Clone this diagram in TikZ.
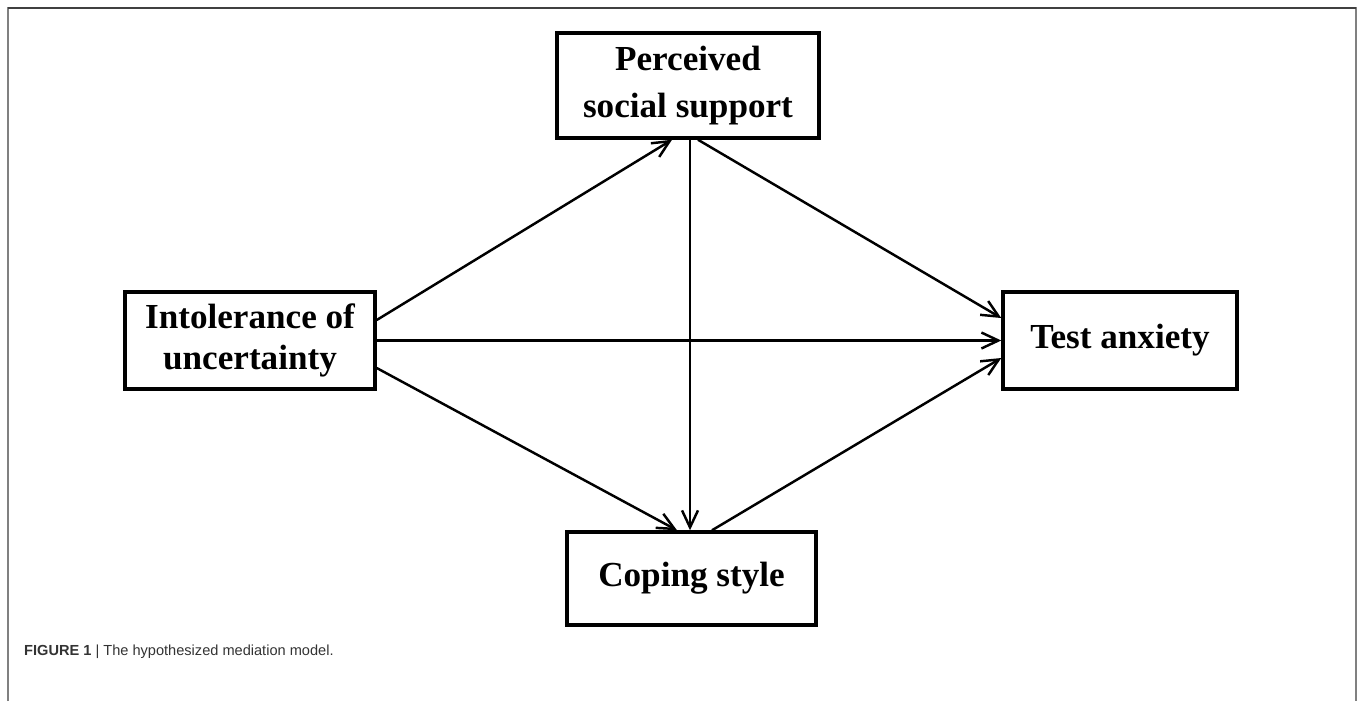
\documentclass[tikz,border=0pt]{standalone}
\usepackage{fontspec}
\setmainfont{Liberation Serif}
\newfontfamily\captionfont{Liberation Sans}
\usetikzlibrary{calc,arrows.meta}

\begin{document}
\begin{tikzpicture}[x=0.02cm,y=-0.02cm,->,>={Straight Barb[length=3.4mm,width=3.2mm]},line width=1.4pt]
   \useasboundingbox (0,0) rectangle (1358,701);
   % frame round the figure
   \draw[-,black!50,line width=0.9pt] (8,701) -- (8,8) -- (1356,8) -- (1356,701);
   \draw[-,black!75,line width=1.1pt] (8,8) -- (1356,8);
   \tikzstyle{main}=[rectangle, draw=black, line width=2pt, align=center, inner sep=0pt, font=\fontsize{20}{26.5}\selectfont\bfseries]
   \node[main,minimum width=52.4mm,minimum height=21mm] (support) at (688,85.5) {Perceived\\social support};
   \node[main,minimum width=50mm,minimum height=19.4mm,font=\fontsize{20}{23.5}\selectfont\bfseries] (intolerance) at (250,340.5) {Intolerance of\\uncertainty};
   \node[main,minimum width=46.8mm,minimum height=19.4mm] (anxiety) at (1120,340.5) {Test anxiety};
   \node[main,minimum width=49.8mm,minimum height=18.6mm] (coping) at (691.5,578.5) {Coping style};
   \path ($(intolerance.east)+(0,-20.5)$) edge ($(support.south)+(-16,0)$);
   \path (intolerance.east) edge (anxiety.west);
   \path ($(intolerance.east)+(0,27.5)$) edge ($(coping.north)+(-14.5,0)$);
   \path ($(support.south)+(2,0)$) edge ($(coping.north)+(-1.5,0)$);
   \path ($(support.south)+(10,0)$) edge ($(anxiety.west)+(0,-22.5)$);
   \path ($(coping.north)+(20.5,0)$) edge ($(anxiety.west)+(0,17.5)$);
   \node[anchor=base west,inner sep=0pt,text=black!80,font=\captionfont\fontsize{8.3}{10}\selectfont] (caption) at (23,655) {\textbf{FIGURE 1} | The hypothesized mediation model.};
\end{tikzpicture}
\end{document}
